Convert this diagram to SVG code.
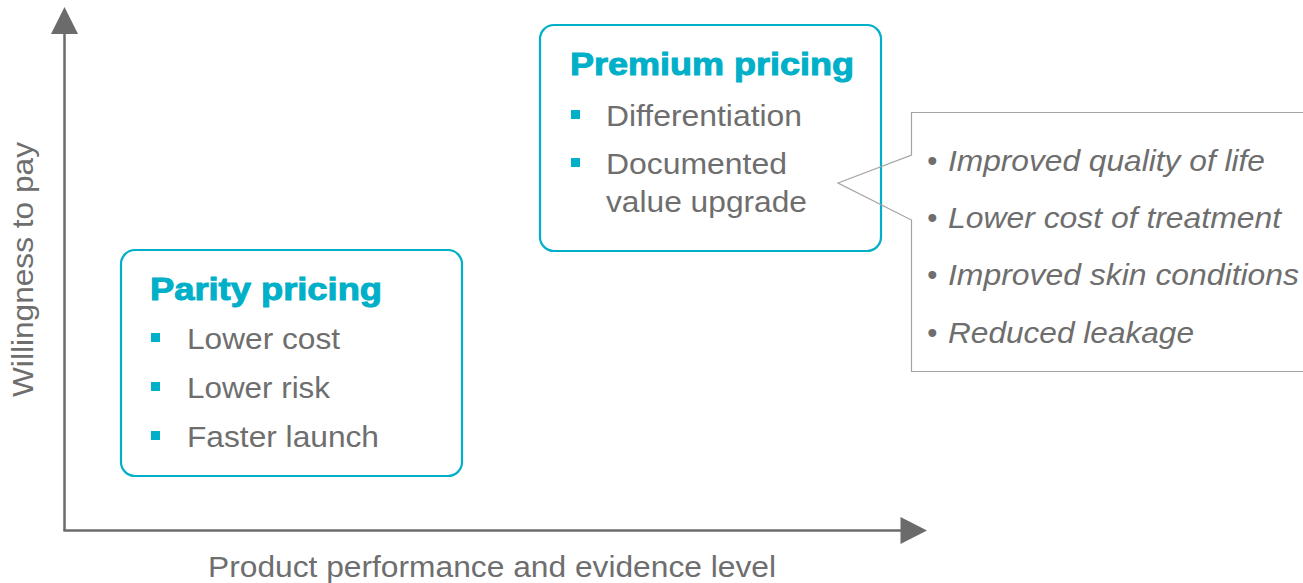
<svg xmlns="http://www.w3.org/2000/svg" width="1303" height="583" viewBox="0 0 1303 583">
  <style>
    .box { fill: #ffffff; stroke: #00AFC8; stroke-width: 2.2; }
    .title { font-family: "Liberation Sans", Arial, sans-serif; font-weight: bold; font-size: 32px; fill: #00AFC8; stroke: #00AFC8; stroke-width: 1; }
    .item { font-family: "Liberation Sans", Arial, sans-serif; font-size: 30px; fill: #6E6E6E; }
    .sq { fill: #00AFC8; }
    .call { font-family: "Liberation Sans", Arial, sans-serif; font-size: 29px; font-style: italic; fill: #6E6E6E; }
    .axislabel { font-family: "Liberation Sans", Arial, sans-serif; font-size: 29px; fill: #6E6E6E; }
    .axis { stroke: #6B6B6B; stroke-width: 2.5; fill: none; }
    .head { fill: #6B6B6B; }
  </style>

  <g id="connectors">
    <line class="axis" x1="64.5" y1="531" x2="64.5" y2="32"/>
    <polygon class="head" points="64.5,7 51,34 78,34"/>
    <line class="axis" x1="63.5" y1="530.5" x2="902" y2="530.5"/>
    <polygon class="head" points="927,530.5 900.5,517 900.5,544"/>
  </g>

  <g id="y-axis-label">
    <text class="axislabel" style="font-size:30px" transform="translate(33,397) rotate(-90)" textLength="255" lengthAdjust="spacingAndGlyphs">Willingness to pay</text>
  </g>

  <g id="x-axis-label">
    <text class="axislabel" x="208" y="577" textLength="568" lengthAdjust="spacingAndGlyphs">Product performance and evidence level</text>
  </g>

  <g id="parity-pricing">
    <rect class="box" x="121" y="250" width="341" height="226" rx="14" ry="14"/>
    <text class="title" x="150" y="300" textLength="232" lengthAdjust="spacingAndGlyphs">Parity pricing</text>
    <rect class="sq" x="151" y="333" width="9" height="9"/>
    <text class="item" x="187" y="349" textLength="153" lengthAdjust="spacingAndGlyphs">Lower cost</text>
    <rect class="sq" x="151" y="382" width="9" height="9"/>
    <text class="item" x="187" y="398" textLength="143" lengthAdjust="spacingAndGlyphs">Lower risk</text>
    <rect class="sq" x="151" y="431" width="9" height="9"/>
    <text class="item" x="187" y="447" textLength="192" lengthAdjust="spacingAndGlyphs">Faster launch</text>
  </g>

  <g id="premium-pricing">
    <rect class="box" x="540" y="25" width="341" height="226" rx="14" ry="14"/>
    <text class="title" x="570" y="75" textLength="284" lengthAdjust="spacingAndGlyphs">Premium pricing</text>
    <rect class="sq" x="571" y="110" width="9" height="9"/>
    <text class="item" x="606" y="126" textLength="196" lengthAdjust="spacingAndGlyphs">Differentiation</text>
    <rect class="sq" x="571" y="158" width="9" height="9"/>
    <text class="item" x="606" y="174" textLength="181" lengthAdjust="spacingAndGlyphs">Documented</text>
    <text class="item" x="606" y="212" textLength="201" lengthAdjust="spacingAndGlyphs">value upgrade</text>
  </g>

  <g id="value-callout">
    <path d="M1310,112.5 H911.5 V155 L838,183 L911.5,220 V371.5 H1310" fill="none" stroke="#A3A3A3" stroke-width="1.2"/>
    <text class="call" x="927" y="171">•</text>
    <text class="call" x="948" y="171" textLength="317" lengthAdjust="spacingAndGlyphs">Improved quality of life</text>
    <text class="call" x="927" y="228">•</text>
    <text class="call" x="948" y="228" textLength="333" lengthAdjust="spacingAndGlyphs">Lower cost of treatment</text>
    <text class="call" x="927" y="285">•</text>
    <text class="call" x="948" y="285" textLength="351" lengthAdjust="spacingAndGlyphs">Improved skin conditions</text>
    <text class="call" x="927" y="343">•</text>
    <text class="call" x="948" y="343" textLength="246" lengthAdjust="spacingAndGlyphs">Reduced leakage</text>
  </g>
</svg>
